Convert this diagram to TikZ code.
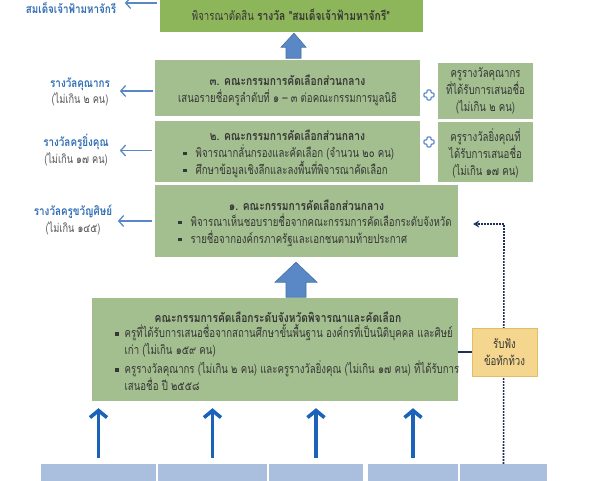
\documentclass[tikz,border=0pt]{standalone}
\usepackage{fontspec}
\setmainfont[Script=Thai,FakeStretch=0.77]{Loma}
\newfontfamily\thbold[Script=Thai,FakeStretch=0.82]{Loma Bold}
\usetikzlibrary{arrows.meta,calc}
\definecolor{gtop}{HTML}{8DB65A}
\definecolor{gbox}{HTML}{A3BF8F}
\definecolor{ybox}{HTML}{F4D68E}
\definecolor{yedge}{HTML}{E2BC66}
\definecolor{bbox}{HTML}{A9BFDD}
\definecolor{lblue}{HTML}{2F6DB5}
\definecolor{arrblue}{HTML}{5A88C6}
\definecolor{arredge}{HTML}{41719C}
\definecolor{upblue}{HTML}{1A63B8}
\definecolor{navy}{HTML}{1D2F5C}
\definecolor{txt}{HTML}{363636}
\definecolor{gtxt}{HTML}{555555}
\newcommand\sqb{\rule[1.8pt]{3.5pt}{3.5pt}}
\newcommand\bfs{\fontsize{12.5}{17}\selectfont}
\newcommand\lfs{\fontsize{12}{16.5}\selectfont}
\newcommand\tb[1]{{\thbold #1}}
\tikzset{
  gbx/.style={fill=gbox, draw=none, inner sep=0pt},
  txtnode/.style={text=txt, inner sep=0pt, font=\bfs},
  lbl/.style={inner sep=0pt, align=center, font=\lfs},
  leftarr/.style={draw=arrblue, line width=1.3pt, -{Straight Barb[length=5pt,width=11pt]}},
  uparr/.style={draw=upblue, line width=3.6pt, -{Straight Barb[length=7pt,width=17pt]}},
  blockarr/.style={fill=arrblue, draw=arredge, line width=0.6pt},
  dotarr/.style={draw=navy, line width=1.6pt, dash pattern=on 1.6pt off 1.4pt, -{Stealth[length=6pt,width=7pt]}},
  ybx/.style={fill=ybox, draw=yedge, line width=0.8pt, inner sep=0pt, minimum width=65pt, minimum height=48pt, align=center, text=txt, font=\bfs},
  plusicon/.pic={\draw[draw=arrblue, line width=1.1pt, rounded corners=0.8pt]
     (-2,-5) -- (2,-5) -- (2,-2) -- (5,-2) -- (5,2) -- (2,2) -- (2,5) -- (-2,5) -- (-2,2) -- (-5,2) -- (-5,-2) -- (-2,-2) -- cycle;}
}
\begin{document}
\begin{tikzpicture}[x=1pt,y=-1pt]
\useasboundingbox[fill=white] (0,0) rectangle (596,480);

% boxes
\node[gbx, fill=gtop, minimum width=263pt, minimum height=42pt] (top) at (291.5,11) {};
\node[gbx, minimum width=265pt, minimum height=56pt] (b3) at (287.5,88) {};
\node[gbx, minimum width=265pt, minimum height=61pt] (b2) at (287.5,151.5) {};
\node[gbx, minimum width=95pt, minimum height=56pt] (r3) at (485.5,91) {};
\node[gbx, minimum width=95pt, minimum height=60pt] (r2) at (485.5,152) {};
\node[gbx, minimum width=303pt, minimum height=72pt] (b1) at (306.5,221) {};
\node[gbx, minimum width=366pt, minimum height=103pt] (pv) at (275,349.5) {};
\node[fill=bbox, inner sep=0pt, minimum width=115pt, minimum height=32pt] (bb1) at (98.5,480) {};
\node[fill=bbox, inner sep=0pt, minimum width=109pt, minimum height=32pt] (bb2) at (212.5,480) {};
\node[fill=bbox, inner sep=0pt, minimum width=94pt, minimum height=32pt] (bb3) at (316,480) {};
\node[fill=bbox, inner sep=0pt, minimum width=90pt, minimum height=32pt] (bb4) at (413,480) {};
\node[fill=bbox, inner sep=0pt, minimum width=87pt, minimum height=32pt] (bb5) at (503.5,480) {};

% texts in boxes
\node[txtnode] (ttop) at (291,15) {พิจารณาตัดสิน \tb{รางวัล "สมเด็จเจ้าฟ้ามหาจักรี"}};
\node[txtnode, font=\bfs\thbold] (t3a) at (287.5,80) {๓. คณะกรรมการคัดเลือกส่วนกลาง};
\node[txtnode] (t3b) at (287.5,98) {เสนอรายชื่อครูลำดับที่ ๑ – ๓ ต่อคณะกรรมการมูลนิธิ};
\node[txtnode, font=\bfs\thbold] (t2a) at (287.5,135) {๒. คณะกรรมการคัดเลือกส่วนกลาง};
\node[txtnode, align=left, anchor=north west] (t2b) at (183,144) {\sqb\hspace{9pt}พิจารณากลั่นกรองและคัดเลือก (จำนวน ๒๐ คน)\\\sqb\hspace{9pt}ศึกษาข้อมูลเชิงลึกและลงพื้นที่พิจารณาคัดเลือก};
\node[txtnode, align=center] (tr3) at (485.5,91) {ครูรางวัลคุณากร\\ที่ได้รับการเสนอชื่อ\\(ไม่เกิน ๒ คน)};
\node[txtnode, align=center] (tr2) at (485.5,153) {ครูรางวัลยิ่งคุณที่\\ได้รับการเสนอชื่อ\\(ไม่เกิน ๑๗ คน)};
\node[txtnode, font=\bfs\thbold] (t1a) at (306.5,205) {๑. คณะกรรมการคัดเลือกส่วนกลาง};
\node[txtnode, align=left, anchor=north west] (t1b) at (178,213) {\sqb\hspace{9pt}พิจารณาเห็นชอบรายชื่อจากคณะกรรมการคัดเลือกระดับจังหวัด\\\sqb\hspace{9pt}รายชื่อจากองค์กรภาครัฐและเอกชนตามท้ายประกาศ};
\node[txtnode, font=\bfs\thbold] (tpa) at (278,317) {คณะกรรมการคัดเลือกระดับจังหวัดพิจารณาและคัดเลือก};
\node[txtnode, align=left, anchor=north west] (tpb) at (115,324) {\sqb\hspace{6pt}ครูที่ได้รับการเสนอชื่อจากสถานศึกษาขั้นพื้นฐาน องค์กรที่เป็นนิติบุคคล และศิษย์\\\hphantom{\sqb\hspace{6pt}}เก่า (ไม่เกิน ๑๕๙ คน)\\[2pt]\sqb\hspace{6pt}ครูรางวัลคุณากร (ไม่เกิน ๒ คน) และครูรางวัลยิ่งคุณ (ไม่เกิน ๑๗ คน) ที่ได้รับการ\\\hphantom{\sqb\hspace{6pt}}เสนอชื่อ ปี ๒๕๕๘};

% left labels
\node[lbl, text=lblue, font=\lfs\thbold] (l0) at (71,8) {สมเด็จเจ้าฟ้ามหาจักรี};
\node[lbl] (l3) at (80,92) {\textcolor{lblue}{\tb{รางวัลคุณากร}}\\\textcolor{gtxt}{(ไม่เกิน ๒ คน)}};
\node[lbl] (l2) at (76,150) {\textcolor{lblue}{\tb{รางวัลครูยิ่งคุณ}}\\\textcolor{gtxt}{(ไม่เกิน ๑๗ คน)}};
\node[lbl] (l1) at (73,220) {\textcolor{lblue}{\tb{รางวัลครูขวัญศิษย์}}\\\textcolor{gtxt}{(ไม่เกิน ๑๔๕)}};

% left arrows
\draw[leftarr] ([xshift=-3pt,yshift=8pt]top.west) -- ([xshift=-35pt,yshift=8pt]top.west);
\draw[leftarr] ([xshift=-2pt,yshift=-3pt]b3.west) -- ([xshift=-35pt,yshift=-3pt]b3.west);
\draw[leftarr] ([xshift=-3pt,yshift=1pt]b2.west) -- ([xshift=-35pt,yshift=1pt]b2.west);
\draw[leftarr] ([xshift=-3pt]b1.west) -- ([xshift=-37pt]b1.west);

% plus icons
\pic at (429,95) {plusicon};
\pic at (429,142) {plusicon};

% block arrows
\draw[blockarr] ($(top.south)+(2.5,1)$) -- ++(12,14) -- ++(-5,0) -- ++(0,11) -- ++(-15,0) -- ++(0,-11) -- ++(-5,0) -- cycle;
\draw[blockarr] ($(b1.south)+(-10.5,5)$) -- ++(21,20) -- ++(-11,0) -- ++(0,15) -- ++(-20,0) -- ++(0,-15) -- ++(-11,0) -- cycle;

% up arrows
\foreach \b in {bb1,bb2,bb3,bb4}
  \draw[uparr] ([yshift=6pt]\b.north) -- ([yshift=-7pt]\b.north |- pv.south);

% dotted feedback and link
\coordinate (dcorner) at (504,224);
\draw[dotarr] (bb5.north) -- (dcorner) -- ([xshift=15pt]b1.east |- dcorner);
\node[ybx] (yb) at (504.5,352) {รับฟัง\\ข้อทักท้วง};
\draw[navy, line width=2pt] (pv.east |- yb.west) -- (yb.west);
\end{tikzpicture}
\end{document}
